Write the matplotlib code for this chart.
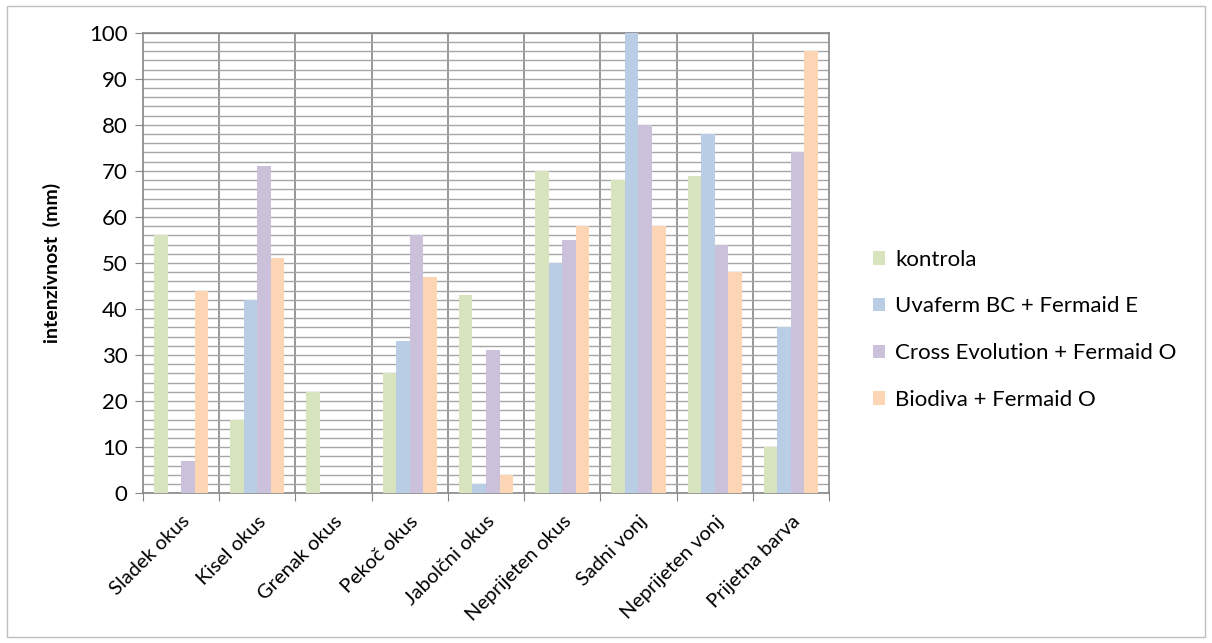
import numpy as np
import matplotlib
matplotlib.use('Agg')
import matplotlib.pyplot as plt
from matplotlib.patches import Rectangle
from matplotlib.ticker import MultipleLocator

plt.rcParams['font.family'] = ['Lato', 'DejaVu Sans']

categories = ['Sladek okus', 'Kisel okus', 'Grenak okus', 'Pekoč okus', 'Jabolčni okus',
              'Neprijeten okus', 'Sadni vonj', 'Neprijeten vonj', 'Prijetna barva']
series_names = ['kontrola', 'Uvaferm BC + Fermaid E',
                'Cross Evolution + Fermaid O', 'Biodiva + Fermaid O']
kontrola = [56, 16, 22, 26, 43, 70, 68, 69, 10]
uvaferm = [0, 42, 0, 33, 2, 50, 100, 78, 36]
cross_evo = [7, 71, 0, 56, 31, 55, 80, 54, 74]
biodiva = [44, 51, 0, 47, 4, 58, 58, 48, 96]
colors = ['#D7E4BD', '#B9CDE5', '#CCC1DA', '#FCD5B5']

fig = plt.figure(figsize=(12.12, 6.43), dpi=100)
fig.patches.append(Rectangle((0.006, 0.01), 0.988, 0.98, transform=fig.transFigure,
                             fill=False, edgecolor='#BFBFBF', linewidth=1))
ax = fig.add_axes([0.118, 0.233, 0.566, 0.716])

x = np.arange(len(categories))
w = 0.178
for i, (vals, c, name) in enumerate(zip([kontrola, uvaferm, cross_evo, biodiva], colors, series_names)):
    ax.bar(x + (i - 1.5) * w, vals, width=w, color=c, label=name, zorder=3)

ax.set_xlim(-0.5, len(categories) - 0.5)
ax.set_ylim(0, 100)
ax.yaxis.set_major_locator(MultipleLocator(10))
ax.yaxis.set_minor_locator(MultipleLocator(2))
ax.grid(axis='y', which='both', color='#A6A6A6', linewidth=1, zorder=0)

# category separators
for b in np.arange(0.5, len(categories) - 0.5):
    ax.axvline(b, color='#868686', linewidth=1.2, zorder=1)

ax.set_xticks(np.arange(-0.5, len(categories)), minor=False)
ax.set_xticklabels([])
ax.set_xticks(x, minor=True)
ax.set_xticklabels(categories, minor=True, rotation=45, ha='right', va='top',
                   rotation_mode='anchor', fontsize=14.5)
ax.tick_params(axis='x', which='minor', length=0, pad=14)
ax.tick_params(axis='x', which='major', length=6, color='#868686', direction='out')
ax.tick_params(axis='y', which='major', length=6, color='#868686', labelsize=16, pad=5)
ax.tick_params(axis='y', which='minor', length=0)

for s in ['left', 'bottom', 'right', 'top']:
    ax.spines[s].set_color('#868686')
    ax.spines[s].set_linewidth(1.2)

ax.set_ylabel('intenzivnost  (mm)', fontsize=14, fontweight='bold', labelpad=20)

ax.legend(loc='center left', bbox_to_anchor=(1.035, 0.355), frameon=False, fontsize=16,
          handlelength=0.55, handleheight=0.55, handletextpad=0.45, labelspacing=1.2)

fig.savefig('out.png', dpi=100)
